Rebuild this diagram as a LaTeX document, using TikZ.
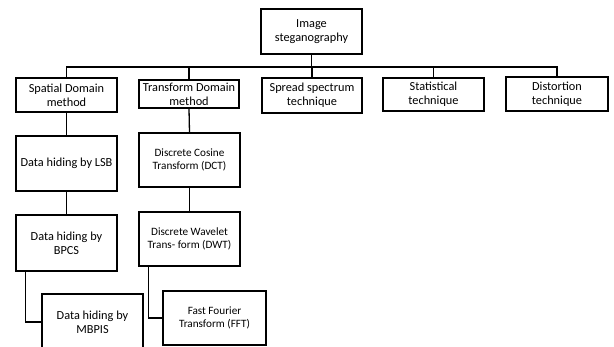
\documentclass[tikz,border=0pt]{standalone}
\usepackage{fontspec}
\setmainfont{Carlito}
\begin{document}
\begin{tikzpicture}[x=1pt,y=-1pt,
  box/.style={draw=black,line width=1.3pt,fill=white,inner sep=0pt,align=center,
    font=\fontsize{12.3}{14}\selectfont,text=black},
  smallbox/.style={box,font=\fontsize{11.2}{13.5}\selectfont},
  link/.style={draw=black,line width=1.3pt}]
\useasboundingbox (0,0) rectangle (614,347);
\clip (0,0) rectangle (614,347);
% level 0
\node[box,minimum width=101pt,minimum height=45pt] (top) at (311.5,31.5) {Image\\steganography};
% level 1
\node[box,minimum width=101pt,minimum height=34pt] (spatial) at (66.5,95) {Spatial Domain\\method};
\node[box,minimum width=100pt,minimum height=28pt] (transform) at (189,94) {Transform Domain\\method};
\node[box,minimum width=100pt,minimum height=35pt] (spread) at (312,95.5) {Spread spectrum\\technique};
\node[box,minimum width=101pt,minimum height=33pt] (stat) at (433.5,94.5) {Statistical\\technique};
\node[box,minimum width=102pt,minimum height=34pt] (dist) at (557,94) {Distortion\\technique};
% spatial chain
\node[box,minimum width=101pt,minimum height=55pt] (lsb) at (66.5,163.5) {Data hiding by LSB};
\node[box,minimum width=101pt,minimum height=56pt] (bpcs) at (66.5,243) {Data hiding by\\BPCS};
\node[box,minimum width=101pt,minimum height=56pt] (mbpis) at (92.5,322) {Data hiding by\\MBPIS};
% transform chain
\node[smallbox,minimum width=101pt,minimum height=54pt] (dct) at (189.5,160) {Discrete Cosine\\Transform (DCT)};
\node[smallbox,minimum width=101pt,minimum height=54pt] (dwt) at (189.5,239) {Discrete Wavelet\\Trans- form (DWT)};
\node[smallbox,minimum width=103pt,minimum height=54pt] (fft) at (214.5,318) {Fast Fourier\\Transform (FFT)};
% bus
\coordinate (bus) at (311.5,67);
\draw[link] (top.south) -- (bus);
\draw[link] (spatial.north) |- (bus) -| (dist.north);
\draw[link] (transform.north) -- (transform.north |- bus);
\draw[link] (spread.north) -- (spread.north |- bus);
\draw[link] (stat.north) -- (stat.north |- bus);
% chains
\draw[link] (spatial.south) -- (lsb.north);
\draw[link] (lsb.south) -- (bpcs.north);
\draw[link] ([xshift=10pt]bpcs.south west) |- (mbpis.west);
\draw[link] (transform.south) -- (dct.north);
\draw[link] (dct.south) -- (dwt.north);
\draw[link] ([xshift=10pt]dwt.south west) |- (fft.west);
\end{tikzpicture}
\end{document}
